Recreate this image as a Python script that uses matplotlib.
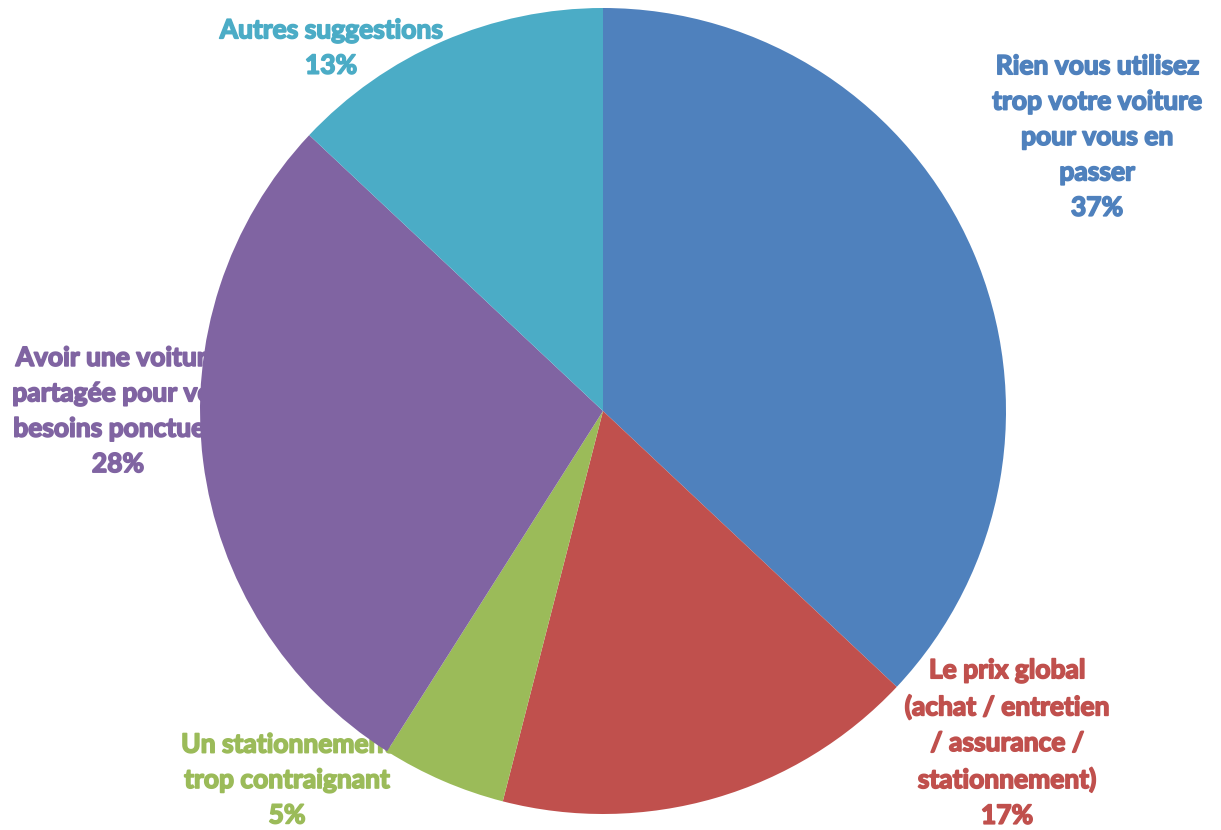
import matplotlib
matplotlib.use("Agg")
import matplotlib.pyplot as plt
import matplotlib.patheffects as pe

categories = [
    "Rien vous utilisez\ntrop votre voiture\npour vous en\npasser",
    "Le prix global\n(achat / entretien\n/ assurance /\nstationnement)",
    "Un stationnement\ntrop contraignant",
    "Avoir une voiture\npartagée pour vos\nbesoins ponctuels",
    "Autres suggestions",
]
percent_labels = ["37%", "17%", "5%", "28%", "13%"]
values = [37, 17, 5, 28, 13]
colors = ["#4F81BD", "#C0504D", "#9BBB59", "#8064A2", "#4BACC6"]

# label block centres (pixels from top-left)
label_pos = [(1097, 137), (1007, 743), (287, 780), (118, 411), (331, 48)]

W, H = 1221, 830
fig = plt.figure(figsize=(W / 100, H / 100), dpi=100)
ax = fig.add_axes([0, 0, 1, 1])
cx, cy, r = 603, 411, 403
ax.pie(values, colors=colors, startangle=90, counterclock=False,
       center=(cx, H - cy), radius=r,
       wedgeprops=dict(linewidth=0, zorder=2))
ax.set_xlim(0, W)
ax.set_ylim(0, H)
ax.set_aspect("equal")
ax.axis("off")

fam = ["Lato", "DejaVu Sans"]
for cat, pct, col, (px, py) in zip(categories, percent_labels, colors, label_pos):
    ax.text(px, H - py, cat + "\n" + pct, ha="center", va="center",
            color=col, fontsize=19, fontweight="bold", family=fam,
            linespacing=1.57, zorder=1,
            path_effects=[pe.withStroke(linewidth=1.2, foreground=col)])

fig.savefig("out.png", dpi=100)
